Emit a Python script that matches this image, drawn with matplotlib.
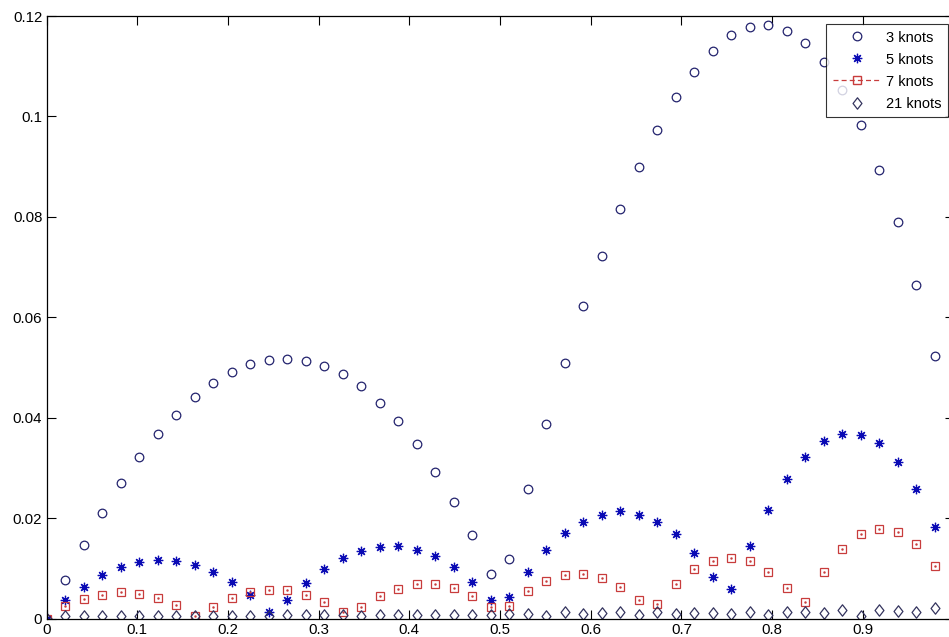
import numpy as np
import matplotlib
matplotlib.use('Agg')
import matplotlib.pyplot as plt
from matplotlib.lines import Line2D
from matplotlib.path import Path

# sample points: 50 equally spaced values on [0, 1]
x_points = np.linspace(0, 1, 50)

three_knots = [0, 0.0077, 0.0146, 0.0211, 0.0269, 0.0321, 0.0367, 0.0406, 0.0441, 0.0469,
               0.0490, 0.0506, 0.0514, 0.0516, 0.0513, 0.0503, 0.0486, 0.0463, 0.0430, 0.0393,
               0.0347, 0.0292, 0.0232, 0.0166, 0.0089, 0.0119, 0.0258, 0.0388, 0.0509, 0.0622,
               0.0722, 0.0815, 0.0899, 0.0973, 0.1038, 0.1089, 0.1131, 0.1162, 0.1178, 0.1182,
               0.1171, 0.1147, 0.1108, 0.1052, 0.0982, 0.0894, 0.0790, 0.0665, 0.0522, 0]

five_knots = [0, 0.0037, 0.0063, 0.0087, 0.0103, 0.0112, 0.0116, 0.0114, 0.0107, 0.0093,
              0.0073, 0.0046, 0.0012, 0.0036, 0.0070, 0.0098, 0.0121, 0.0135, 0.0142, 0.0144,
              0.0137, 0.0124, 0.0102, 0.0073, 0.0037, 0.0043, 0.0093, 0.0136, 0.0170, 0.0193,
              0.0207, 0.0214, 0.0207, 0.0193, 0.0168, 0.0130, 0.0082, 0.0058, 0.0145, 0.0216,
              0.0277, 0.0321, 0.0354, 0.0368, 0.0365, 0.0349, 0.0311, 0.0258, 0.0183, 0]

seven_knots = [0, 0.0025, 0.0038, 0.0047, 0.0052, 0.0049, 0.0040, 0.0026, 0.0005, 0.0022,
               0.0040, 0.0052, 0.0057, 0.0057, 0.0047, 0.0033, 0.0012, 0.0022, 0.0045, 0.0059,
               0.0068, 0.0068, 0.0061, 0.0045, 0.0022, 0.0024, 0.0054, 0.0075, 0.0087, 0.0089,
               0.0080, 0.0063, 0.0036, 0.0029, 0.0069, 0.0099, 0.0114, 0.0121, 0.0114, 0.0093,
               0.0061, 0.0033, 0.0093, 0.0138, 0.0168, 0.0179, 0.0173, 0.0149, 0.0105, 0]

twentyone_knots = [0, 0.0004, 0.0004, 0.0004, 0.0004, 0.0005, 0.0004, 0.0004, 0.0004, 0.0005,
                   0.0004, 0.0004, 0.0005, 0.0006, 0.0006, 0.0006, 0.0007, 0.0005, 0.0007, 0.0006,
                   0.0007, 0.0007, 0.0006, 0.0007, 0.0007, 0.0009, 0.0009, 0.0004, 0.0012, 0.0009,
                   0.0010, 0.0012, 0.0007, 0.0012, 0.0009, 0.0010, 0.0010, 0.0009, 0.0012, 0.0007,
                   0.0012, 0.0012, 0.0010, 0.0017, 0.0005, 0.0017, 0.0014, 0.0012, 0.0020, 0]

labels = ['3 knots', '5 knots', '7 knots', '21 knots']
x_ticks = [0, 0.1, 0.2, 0.3, 0.4, 0.5, 0.6, 0.7, 0.8, 0.9, 1.0]
# the "1" label sits past the cropped right edge in the original
x_tick_labels = ['0', '0.1', '0.2', '0.3', '0.4', '0.5', '0.6', '0.7', '0.8', '0.9', '']
y_ticks = [0, 0.02, 0.04, 0.06, 0.08, 0.1, 0.12]
y_tick_labels = ['0', '0.02', '0.04', '0.06', '0.08', '0.1', '0.12']

plt.rcParams['font.family'] = ['Liberation Sans', 'DejaVu Sans']

c_circle = '#23236e'
c_star = '#0a0ab4'
c_square = '#c83c3c'
c_diamond = '#34345e'

# matlab style diamond, a bit narrower than tall
diamond = Path([(0, 1), (0.78, 0), (0, -1), (-0.78, 0), (0, 1)],
               [Path.MOVETO, Path.LINETO, Path.LINETO, Path.LINETO, Path.CLOSEPOLY])

fig = plt.figure(figsize=(9.49, 6.37), dpi=100)
fig.patch.set_facecolor('white')
# axes run a bit past the right edge, like the cropped original
ax = fig.add_axes([46.5 / 949, (637 - 618.5) / 637, 907 / 949, 602.5 / 637])

ax.plot(x_points, three_knots, linestyle='none', marker='o', markersize=6.2,
        markerfacecolor='none', markeredgecolor=c_circle, markeredgewidth=0.9)
ax.plot(x_points, five_knots, linestyle='none', marker=(8, 2, 0), markersize=6.8,
        color=c_star, markeredgewidth=0.9)
ax.plot(x_points, seven_knots, linestyle='none', marker='s', markersize=6.0,
        markerfacecolor='none', markeredgecolor=c_square, markeredgewidth=0.9)
ax.plot(x_points, seven_knots, linestyle='none', marker='.', markersize=1.5, color=c_square)
ax.plot(x_points, twentyone_knots, linestyle='none', marker=diamond, markersize=8.2,
        markerfacecolor='none', markeredgecolor=c_diamond, markeredgewidth=0.9)

ax.set_xlim(0, 1)
ax.set_ylim(0, 0.12)
ax.set_xticks(x_ticks)
ax.set_xticklabels(x_tick_labels)
ax.set_yticks(y_ticks)
ax.set_yticklabels(y_tick_labels)
ax.tick_params(direction='in', length=6.5, width=0.8, top=True, right=True,
               labelsize=10.8, pad=3, colors='black')
for side in ax.spines.values():
    side.set_linewidth(0.9)

handles = [
    Line2D([], [], linestyle='none', marker='o', markersize=6.2, markerfacecolor='none',
           markeredgecolor=c_circle, markeredgewidth=0.9),
    Line2D([], [], linestyle='none', marker=(8, 2, 0), markersize=6.8, color=c_star,
           markeredgewidth=0.9),
    Line2D([], [], linestyle='--', dashes=(4, 2.5), color=c_square, linewidth=0.9, marker='s',
           markersize=6.0, markerfacecolor='none', markeredgecolor=c_square),
    Line2D([], [], linestyle='none', marker=diamond, markersize=8.2, markerfacecolor='none',
           markeredgecolor=c_diamond, markeredgewidth=0.9),
]
leg = ax.legend(handles, labels, loc='upper right', bbox_to_anchor=(948 / 949, 1 - 24 / 637),
                bbox_transform=fig.transFigure, fontsize=10.5, frameon=True, fancybox=False,
                borderaxespad=0, handlelength=3.3, handletextpad=0.35, labelspacing=0.55,
                borderpad=0.45)
leg.get_frame().set_edgecolor('black')
leg.get_frame().set_linewidth(0.8)

fig.savefig('out.png', dpi=100, facecolor='white')
